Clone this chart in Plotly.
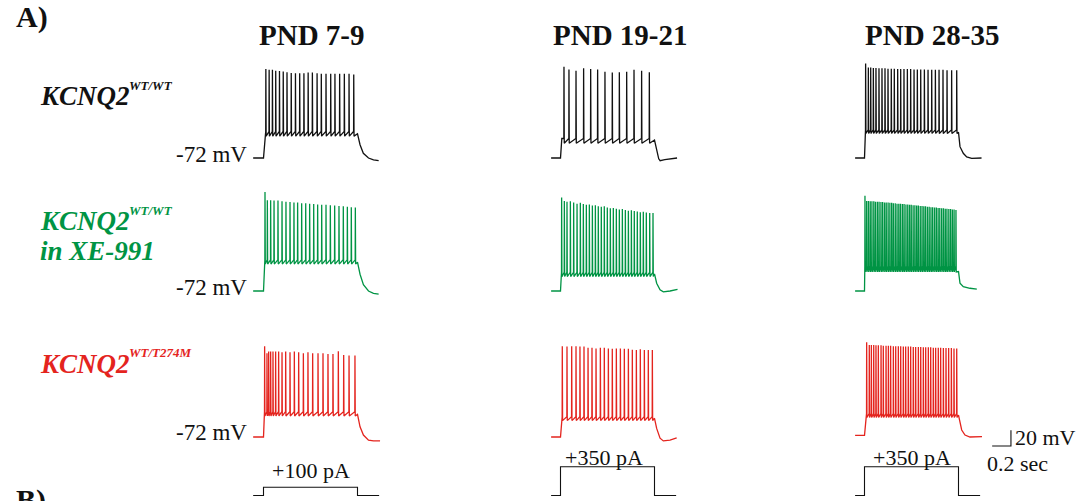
import plotly.graph_objects as go

# ---------------- layout constants (pixels of the 1080x501 page) ----------------
W, H = 1080, 501
PX_PER_MS = 0.094
PX_PER_MV = 0.78
PX_PER_PA = 0.082
REST_MV = -72

col_onset_px = [263.5, 560.5, 864.5]
row_rest_px = [158, 291, 437]
current_zero_px = 495.5

BLACK = "#111111"
GREEN = "#009444"
RED = "#E4241E"
FONT = "Liberation Serif, Times New Roman, serif"

# ---------------- data ----------------
column_titles = ["PND 7-9", "PND 19-21", "PND 28-35"]
step_labels = ["+100 pA", "+350 pA", "+350 pA"]
step_current_pa = [100, 350, 350]
step_ms = 1000
trace_start_ms = [-110, -100, -100]

# Row 1: KCNQ2 WT/WT
wt_p7_spike_ms = [25, 60, 95, 130, 170, 210, 250, 295, 340, 385, 430, 475, 520, 570, 615, 665, 715, 760, 810, 860, 910, 960]
wt_p7_peak_mv = [42, 41, 41, 40, 39.5, 39, 38, 37, 36.5, 36.5, 36.5, 37.5, 37.5, 36.5, 36, 36, 36, 36, 36, 36, 36, 35]
wt_p7_level_mv = [-38, -44]          # pre-spike level, after-hyperpolarisation level
wt_p7_tail_ms = [1000, 1027, 1062, 1117, 1170, 1225]
wt_p7_tail_mv = [-41, -55, -66, -72, -74.5, -75.5]

wt_p19_spike_ms = [37, 90, 165, 246, 321, 395, 473, 551, 626, 704, 782, 863, 945]
wt_p19_peak_mv = [45, 41.5, 40, 43, 42, 41.5, 38.5, 37.5, 38, 38.5, 41, 40, 38]
wt_p19_level_mv = [-47, -53]
wt_p19_tail_ms = [1000, 1010, 1025, 1045, 1060, 1110, 1240]
wt_p19_tail_mv = [-49, -55, -64, -73, -75.5, -74, -72]

wt_p28_spike_ms = [12, 41, 66, 94, 122, 154, 186, 218, 250, 285, 317, 353, 385, 420, 456, 491, 527, 562, 598, 637,
                   676, 715, 754, 793, 835, 878, 927, 981]
wt_p28_peak_mv = [49, 44, 44, 43.5, 43.5, 43, 43, 43, 42.5, 42.5, 42.5, 42, 42, 42, 42, 42, 41.5, 41.5, 41.5, 41.5,
                  41, 41, 41, 41, 41, 40.5, 40.5, 40.5]
wt_p28_level_mv = [-36, -40.5]
wt_p28_tail_ms = [1000, 1016, 1051, 1087, 1140, 1245]
wt_p28_tail_mv = [-39, -57.5, -66, -70.5, -72.5, -72]

# Row 2: KCNQ2 WT/WT in XE-991
xe_p7_spike_ms = [16, 41, 76, 112, 154, 197, 239, 282, 324, 363, 406, 449, 491, 534, 576, 619, 665, 711, 757, 803,
                  849, 892, 934, 977]
xe_p7_peak_mv = [55, 44.5, 44.5, 44, 44, 43, 42.5, 42, 41.5, 41.5, 40.5, 40.5, 40, 39.5, 39, 38.5, 38.5, 38, 37.5, 37,
                 36.5, 36, 35.5, 35]
xe_p7_level_mv = [-32, -37.5]
xe_p7_tail_ms = [1000, 1027, 1063, 1117, 1170, 1225]
xe_p7_tail_mv = [-35, -50.5, -64, -72, -75, -76]

xe_p19_spike_ms = [12, 41, 69, 105, 140, 176, 211, 243, 275, 307, 339, 371, 402, 434, 466, 498, 530, 562, 594, 626,
                   658, 690, 722, 754, 785, 817, 849, 881, 913, 949, 984]
xe_p19_peak_mv = [48, 43.5, 42.5, 43, 41.5, 40, 41, 39.5, 38.5, 39, 37.5, 38, 36.5, 36, 36.5, 35, 34, 34.5, 33.5, 32.5,
                  33, 32, 31, 31.5, 30.5, 30, 29, 29.5, 28.5, 28, 28]
xe_p19_level_mv = [-48, -53.5]
xe_p19_tail_ms = [1000, 1023, 1059, 1094, 1165, 1245]
xe_p19_tail_mv = [-50, -62, -70.5, -73, -72, -70]

xe_p28_spike_ms = [5, 23, 42, 61, 79, 99, 117, 137, 155, 175, 193, 213, 231, 251, 270, 289, 307, 327, 346, 365,
                   383, 403, 421, 441, 460, 479, 497, 517, 536, 555, 573, 593, 612, 631, 649, 669, 688, 707, 725, 745,
                   764, 783, 801, 821, 840, 859, 877, 897, 916, 935, 953, 973]
xe_p28_peak_mv = [50, 43.5, 43.5, 43, 43, 43, 42.5, 42.5, 42.5, 42, 42, 41.5, 41.5, 41.5, 41, 41, 40.5, 40.5, 40, 40,
                  40, 39.5, 39.5, 39, 39, 38.5, 38.5, 38, 38, 37.5, 37.5, 37, 37, 36.5, 36.5, 36, 36, 35.5, 35.5, 35,
                  35, 34.5, 34.5, 34, 34, 33.5, 33.5, 33, 33, 32.5, 32.5, 32]
xe_p28_level_mv = [-40, -47.5]
xe_p28_tail_ms = [1000, 1016, 1051, 1122, 1195]
xe_p28_tail_mv = [-47, -62, -66.5, -68.5, -69.5]

# Row 3: KCNQ2 WT/T274M
tm_p7_spike_ms = [12, 37, 55, 76, 101, 129, 161, 197, 236, 282, 328, 374, 424, 473, 523, 580, 633, 686, 739, 796,
                  853, 910, 973]
tm_p7_peak_mv = [44.5, 35.5, 37.5, 37.5, 37.5, 37.5, 37.5, 36.5, 37.5, 36.5, 37.5, 36.5, 35.5, 36.5, 35.5, 35.5, 35.5,
                 34.5, 34.5, 38, 33, 32.5, 32.5]
tm_p7_level_mv = [-39.5, -45]
tm_p7_tail_ms = [1000, 1027, 1063, 1117, 1170, 1240]
tm_p7_tail_mv = [-43, -59, -69.5, -76, -77, -77]

tm_p19_spike_ms = [19, 69, 119, 165, 207, 250, 293, 335, 378, 424, 466, 509, 551, 594, 637, 679, 722, 764, 807, 849,
                   892, 934, 977]
tm_p19_peak_mv = [44.5, 44, 44.5, 44.5, 44, 44, 42.5, 42.5, 41.5, 42.5, 42.5, 41.5, 41, 41.5, 41.5, 41, 41, 40, 39.5,
                  40.5, 39.5, 39.5, 39.5]
tm_p19_level_mv = [-46, -51]
tm_p19_tail_ms = [1000, 1023, 1059, 1094, 1165, 1236]
tm_p19_tail_mv = [-48, -61, -73.5, -77, -76, -73]

tm_p28_spike_ms = [23, 51, 73, 98, 122, 147, 176, 200, 229, 254, 278, 307, 332, 360, 385, 413, 438, 466, 491, 519,
                   544, 573, 598, 626, 651, 679, 704, 732, 757, 785, 810, 839, 867, 895, 924, 952, 981]
tm_p28_peak_mv = [49.5, 46, 46, 46, 45.5, 45.5, 45.5, 45, 45, 45, 45, 44.5, 44.5, 44.5, 44.5, 44, 44, 44, 44, 43.5,
                  43.5, 43.5, 43.5, 43, 43, 43, 43, 42.5, 42.5, 42.5, 42.5, 42, 42, 42, 42, 41.5, 41.5]
tm_p28_level_mv = [-42, -47]
tm_p28_tail_ms = [1000, 1034, 1069, 1122, 1250]
tm_p28_tail_mv = [-44, -63, -69.5, -72, -71.5]

rest_mv = [[-72, -72, -72], [-72, -72, -72], [-72, -72, -70]]

# scale bar (drawn in the row-3 / column-3 axes)
scalebar_ms = 200
scalebar_mv = 20
scalebar_corner = (1558, -83.5)

rows = [
    ("wt", BLACK, [
        (wt_p7_spike_ms, wt_p7_peak_mv, wt_p7_level_mv, wt_p7_tail_ms, wt_p7_tail_mv),
        (wt_p19_spike_ms, wt_p19_peak_mv, wt_p19_level_mv, wt_p19_tail_ms, wt_p19_tail_mv),
        (wt_p28_spike_ms, wt_p28_peak_mv, wt_p28_level_mv, wt_p28_tail_ms, wt_p28_tail_mv)]),
    ("xe", GREEN, [
        (xe_p7_spike_ms, xe_p7_peak_mv, xe_p7_level_mv, xe_p7_tail_ms, xe_p7_tail_mv),
        (xe_p19_spike_ms, xe_p19_peak_mv, xe_p19_level_mv, xe_p19_tail_ms, xe_p19_tail_mv),
        (xe_p28_spike_ms, xe_p28_peak_mv, xe_p28_level_mv, xe_p28_tail_ms, xe_p28_tail_mv)]),
    ("tm", RED, [
        (tm_p7_spike_ms, tm_p7_peak_mv, tm_p7_level_mv, tm_p7_tail_ms, tm_p7_tail_mv),
        (tm_p19_spike_ms, tm_p19_peak_mv, tm_p19_level_mv, tm_p19_tail_ms, tm_p19_tail_mv),
        (tm_p28_spike_ms, tm_p28_peak_mv, tm_p28_level_mv, tm_p28_tail_ms, tm_p28_tail_mv)]),
]


def build_trace(t_start, rest, spikes, peaks, levels, tail_t, tail_v):
    assert len(spikes) == len(peaks)
    pre, ahp = levels
    xs = [t_start, 0]
    ys = [rest, rest]
    if spikes[0] > 25:
        xs.append(14)
        ys.append(pre)
    for t, p in zip(spikes, peaks):
        xs += [t - 1.5, t, t + 3]
        ys += [pre, p, ahp]
    xs += tail_t
    ys += tail_v
    return xs, ys


fig = go.Figure()


def ax(i, letter):
    return letter if i == 0 else f"{letter}{i + 1}"


for r, (name, color, panels) in enumerate(rows):
    for c, (spk, pk, lv, tt, tv) in enumerate(panels):
        xs, ys = build_trace(trace_start_ms[c], rest_mv[r][c], spk, pk, lv, tt, tv)
        fig.add_trace(go.Scatter(x=xs, y=ys, mode="lines", xaxis=ax(c, "x"), yaxis=ax(r, "y"),
                                 line=dict(color=color, width=1.3), hoverinfo="skip"))

# current steps
for c in range(3):
    end = 1230
    fig.add_trace(go.Scatter(
        x=[trace_start_ms[c], 0, 0, step_ms, step_ms, end],
        y=[0, 0, step_current_pa[c], step_current_pa[c], 0, 0],
        mode="lines", xaxis=ax(c, "x"), yaxis="y4",
        line=dict(color=BLACK, width=1.1), hoverinfo="skip"))

# scale bar
sx, sy = scalebar_corner
fig.add_trace(go.Scatter(x=[sx - scalebar_ms, sx, sx], y=[sy, sy, sy + scalebar_mv], mode="lines",
                         xaxis="x3", yaxis="y3", line=dict(color=BLACK, width=1.1), hoverinfo="skip"))

layout = dict(width=W, height=H, margin=dict(l=0, r=0, t=0, b=0, pad=0),
              paper_bgcolor="white", plot_bgcolor="rgba(0,0,0,0)", showlegend=False)

for c in range(3):
    onset = col_onset_px[c]
    key = "xaxis" if c == 0 else f"xaxis{c + 1}"
    layout[key] = dict(domain=[0, 1], range=[(0 - onset) / PX_PER_MS, (W - onset) / PX_PER_MS],
                       visible=False, fixedrange=True, anchor="y")
for r in range(3):
    y0 = row_rest_px[r]
    key = "yaxis" if r == 0 else f"yaxis{r + 1}"
    layout[key] = dict(domain=[0, 1], range=[REST_MV - (H - y0) / PX_PER_MV, REST_MV + y0 / PX_PER_MV],
                       visible=False, fixedrange=True, anchor="x")
layout["yaxis4"] = dict(domain=[0, 1], range=[-(H - current_zero_px) / PX_PER_PA, current_zero_px / PX_PER_PA],
                        visible=False, fixedrange=True, anchor="x")

fig.update_layout(**layout)


def txt(text, px, py, size, color=BLACK, xanchor="center"):
    fig.add_annotation(text=text, x=px / W, y=1 - py / H, xref="paper", yref="paper",
                       xanchor=xanchor, yanchor="middle", showarrow=False,
                       font=dict(family=FONT, size=size, color=color))


txt("<b>A)</b>", 14, 17, 30, xanchor="left")
txt("<b>B)</b>", 14, 500, 30, xanchor="left")

for title, cx in zip(column_titles, [312, 620, 932]):
    txt(f"<b>{title}</b>", cx, 35, 29)

txt("<b><i>KCNQ2</i></b>", 38, 96, 27, BLACK, "left")
txt("<b><i>WT/WT</i></b>", 127, 86, 13, BLACK, "left")
txt("<b><i>KCNQ2</i></b>", 38, 221, 27, GREEN, "left")
txt("<b><i>WT/WT</i></b>", 127, 210, 13, GREEN, "left")
txt("<b><i>in XE-991</i></b>", 38, 251, 27, GREEN, "left")
txt("<b><i>KCNQ2</i></b>", 38, 364, 27, RED, "left")
txt("<b><i>WT/T274M</i></b>", 127, 352, 13, RED, "left")

for py in [155, 287, 432]:
    txt("-72 mV", 249, py, 23, BLACK, "right")

txt(step_labels[0], 311, 470, 22)
txt(step_labels[1], 604, 457, 22)
txt(step_labels[2], 912, 457, 22)

txt(f"{scalebar_mv} mV", 1013, 437, 22, BLACK, "left")
txt(f"{scalebar_ms / 1000:g} sec", 985, 463, 22, BLACK, "left")

fig.write_html("out.html")
